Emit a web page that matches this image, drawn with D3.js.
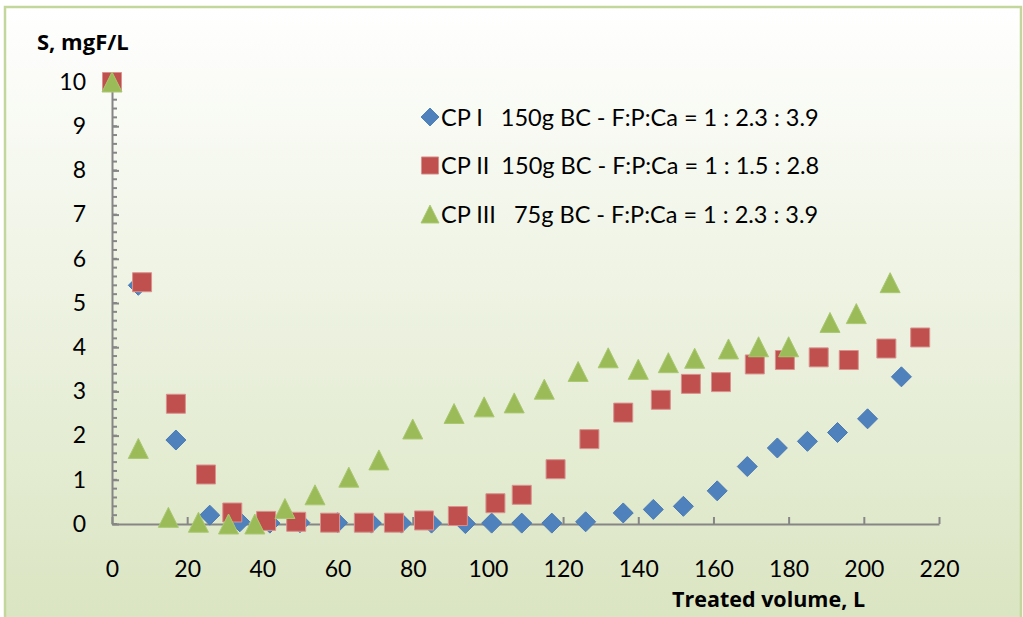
<!DOCTYPE html>
<html>
<head>
<meta charset="utf-8">
<script src="https://cdn.jsdelivr.net/npm/d3@7"></script>
<style>
  body { margin: 0; background: #ffffff; }
  svg text { font-family: Lato, "Open Sans", sans-serif; fill: #000; }
  svg text.ttl { font-family: "Open Sans", Lato, sans-serif; font-weight: bold; }
</style>
</head>
<body>
<div id="chart"></div>
<script>
// data
var cp1X = [0, 7, 17, 26, 34, 42, 50, 60, 69, 77, 85, 94, 101, 109, 117, 126, 136, 144, 152, 161, 169, 177, 185, 193, 201, 210];
var cp1Y = [10, 5.4, 1.9, 0.2, 0.05, 0.02, 0.03, 0.03, 0.02, 0.02, 0.02, 0.01, 0.02, 0.02, 0.02, 0.05, 0.25, 0.33, 0.4, 0.75, 1.3, 1.72, 1.87, 2.07, 2.38, 3.33];

var cp2X = [0, 8, 17, 25, 32, 41, 49, 58, 67, 75, 83, 92, 102, 109, 118, 127, 136, 146, 154, 162, 171, 179, 188, 196, 206, 215];
var cp2Y = [10, 5.47, 2.72, 1.12, 0.26, 0.07, 0.05, 0.03, 0.03, 0.03, 0.08, 0.18, 0.47, 0.66, 1.24, 1.92, 2.52, 2.81, 3.17, 3.21, 3.61, 3.71, 3.77, 3.71, 3.97, 4.22];

var cp3X = [0, 7, 15, 23, 31, 38, 46, 54, 63, 71, 80, 91, 99, 107, 115, 124, 132, 140, 148, 155, 164, 172, 180, 191, 198, 207];
var cp3Y = [10, 1.71, 0.15, 0.04, 0, 0, 0.35, 0.66, 1.06, 1.45, 2.15, 2.5, 2.65, 2.74, 3.05, 3.45, 3.76, 3.5, 3.65, 3.75, 3.96, 4.01, 4.01, 4.56, 4.76, 5.46];

var seriesNames = ["CP I   150g BC - F:P:Ca = 1 : 2.3 : 3.9",
                   "CP II  150g BC - F:P:Ca = 1 : 1.5 : 2.8",
                   "CP III   75g BC - F:P:Ca = 1 : 2.3 : 3.9"];
var xTicks = [0, 20, 40, 60, 80, 100, 120, 140, 160, 180, 200, 220];
var yTicks = [0, 1, 2, 3, 4, 5, 6, 7, 8, 9, 10];

var W = 1023, H = 617;
var margin = { top: 82, right: 84, bottom: 93, left: 112 },
    width = W - margin.left - margin.right,
    height = H - margin.top - margin.bottom;

var svg = d3.select("#chart").append("svg")
    .attr("width", W)
    .attr("height", H);

// background gradient + border
var grad = svg.append("defs").append("linearGradient")
    .attr("id", "bg").attr("x1", 0).attr("y1", 0).attr("x2", 0).attr("y2", 1);
grad.append("stop").attr("offset", "0%").attr("stop-color", "#ffffff");
grad.append("stop").attr("offset", "100%").attr("stop-color", "#d9e4c0");

svg.append("rect")
    .attr("x", 5).attr("y", 7)
    .attr("width", 1016).attr("height", 630)
    .attr("fill", "url(#bg)")
    .attr("stroke", "#c3d69b")
    .attr("stroke-width", 2.5);

var g = svg.append("g")
    .attr("transform", "translate(" + margin.left + "," + margin.top + ")");

var x = d3.scaleLinear().domain([0, 220]).range([0, width]);
var y = d3.scaleLinear().domain([0, 10]).range([height, 0]);

var axisColor = "#868686";

// x axis (ticks point up, inside)
var xAxis = g.append("g")
    .attr("transform", "translate(0," + height + ")")
    .call(d3.axisBottom(x).tickValues(xTicks).tickSize(-7).tickPadding(37).tickSizeOuter(0));
xAxis.select(".domain").attr("stroke", axisColor).attr("stroke-width", 2);
xAxis.selectAll(".tick line").attr("stroke", axisColor).attr("stroke-width", 2);
xAxis.selectAll(".tick text").style("font-size", "23px").attr("fill", "#000");

// y axis minor ticks
var minor = d3.range(0, 10.01, 0.2);
g.append("g").selectAll("line")
    .data(minor)
    .enter().append("line")
    .attr("x1", 0).attr("x2", 5)
    .attr("y1", function(d) { return y(d); })
    .attr("y2", function(d) { return y(d); })
    .attr("stroke", axisColor).attr("stroke-width", 2);

var yAxis = g.append("g")
    .call(d3.axisLeft(y).tickValues(yTicks).tickSize(-7).tickPadding(26).tickSizeOuter(0));
yAxis.select(".domain").attr("stroke", axisColor).attr("stroke-width", 2);
yAxis.selectAll(".tick line").attr("stroke", axisColor).attr("stroke-width", 2);
yAxis.selectAll(".tick text").style("font-size", "23px").attr("fill", "#000");

// axis titles
svg.append("text").attr("class", "ttl")
    .attr("x", 37).attr("y", 50)
    .style("font-size", "22px")
    .text("S, mgF/L");

svg.append("text").attr("class", "ttl")
    .attr("x", 672).attr("y", 607)
    .style("font-size", "21.5px")
    .text("Treated volume, L");

// marker shapes
var ms = 10;
function diamond(cx, cy) {
    return "M" + cx + "," + (cy - ms) + "L" + (cx + ms) + "," + cy + "L" + cx + "," + (cy + ms) + "L" + (cx - ms) + "," + cy + "Z";
}
function square(cx, cy) {
    var s = ms - 0.5;
    return "M" + (cx - s) + "," + (cy - s) + "h" + (2 * s) + "v" + (2 * s) + "h" + (-2 * s) + "Z";
}
function triangle(cx, cy) {
    return "M" + cx + "," + (cy - ms) + "L" + (cx + ms) + "," + (cy + ms) + "L" + (cx - ms) + "," + (cy + ms) + "Z";
}

var series = [
    { xs: cp1X, ys: cp1Y, shape: diamond, fill: "#4f81bd", stroke: "#4a7ab4" },
    { xs: cp2X, ys: cp2Y, shape: square, fill: "#c0504d", stroke: "#d8928f" },
    { xs: cp3X, ys: cp3Y, shape: triangle, fill: "#9bbb59", stroke: "#a9c870" }
];

series.forEach(function(s) {
    var pts = s.xs.map(function(v, i) { return { x: v, y: s.ys[i] }; });
    g.append("g").selectAll("path")
        .data(pts)
        .enter().append("path")
        .attr("d", function(d) { return s.shape(x(d.x), y(d.y)); })
        .attr("fill", s.fill)
        .attr("stroke", s.stroke)
        .attr("stroke-width", 1);
});

// legend
var leg = svg.append("g").attr("transform", "translate(430,117)");
series.forEach(function(s, i) {
    var row = leg.append("g").attr("transform", "translate(0," + (i * 48.5) + ")");
    row.append("path")
        .attr("d", s.shape(0, 0))
        .attr("transform", "scale(0.9)")
        .attr("fill", s.fill)
        .attr("stroke", s.stroke);
    row.append("text")
        .attr("x", 11).attr("y", 8.5)
        .style("font-size", "23.5px")
        .style("white-space", "pre")
        .text(seriesNames[i]);
});
</script>
</body>
</html>
